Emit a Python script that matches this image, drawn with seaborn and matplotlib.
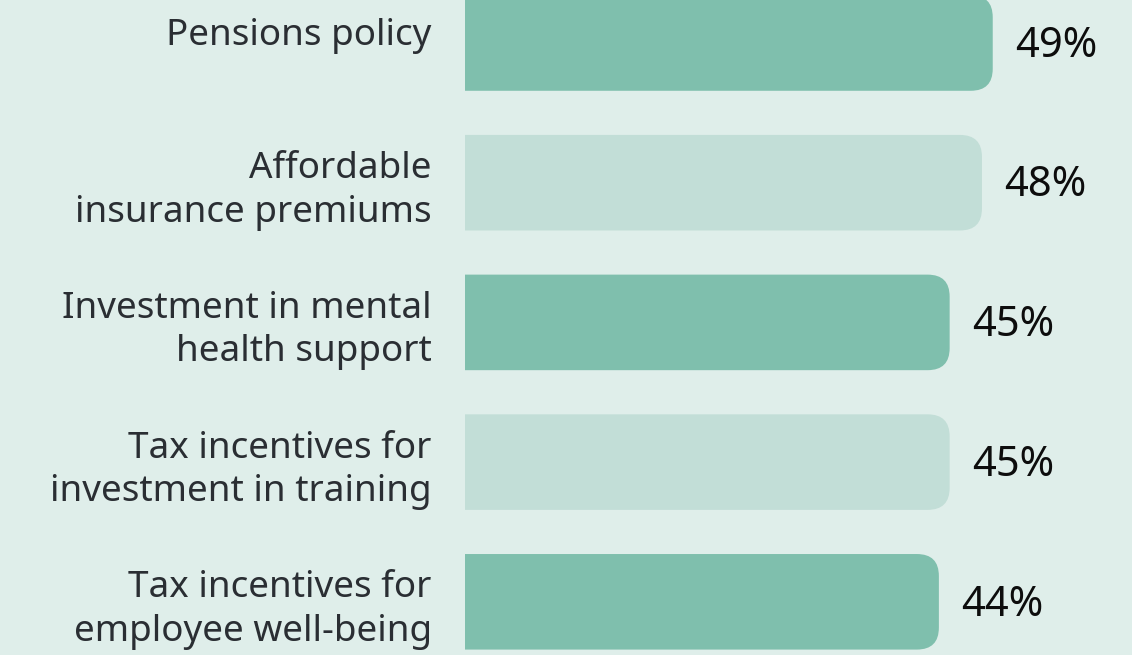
import matplotlib
matplotlib.use("Agg")
import matplotlib.pyplot as plt
from matplotlib.patches import FancyBboxPatch
from matplotlib.transforms import ScaledTranslation
import seaborn as sns
import pandas as pd

categories = [
    "Pensions policy",
    "Affordable\ninsurance premiums",
    "Investment in mental\nhealth support",
    "Tax incentives for\ninvestment in training",
    "Tax incentives for\nemployee well-being",
]
values = [49, 48, 45, 45, 44]
bar_colors = ["#7fbfad", "#c2ded7", "#7fbfad", "#c2ded7", "#7fbfad"]

BG = "#dfeeea"

sns.set_theme(style="white")
plt.rcParams["font.family"] = ["Noto Sans", "DejaVu Sans"]

df = pd.DataFrame({"label": categories, "value": values})

W, H = 1132, 655
fig = plt.figure(figsize=(W / 100, H / 100), dpi=100, facecolor=BG)
left_px = 465
ax = fig.add_axes([left_px / W, 0, 1 - left_px / W, 1])
ax.set_facecolor(BG)

px_per_unit_x = 10.77
pitch_px = 139.7
first_center_px = 43.0
sns.barplot(data=df, x="value", y="label", hue="label", palette=bar_colors,
            legend=False, orient="h", width=0.684, ax=ax, saturation=1)

ax.set_xlim(0, (W - left_px) / px_per_unit_x)
top = -first_center_px / pitch_px
bottom = top + H / pitch_px
ax.set_ylim(bottom, top)

# replace plain bars with right-rounded versions
radius_px = 22
ux = radius_px / px_per_unit_x
aspect = (1 / pitch_px) / (1 / px_per_unit_x)
bars = sorted(ax.patches, key=lambda p: p.get_y())
for val, p in zip(values, bars):
    x0, y0 = p.get_x(), p.get_y()
    w, h = p.get_width(), p.get_height()
    fc = p.get_facecolor()
    p.remove()
    rb = FancyBboxPatch((x0 - 2 * ux, y0), w + 2 * ux, h,
                        boxstyle=f"round,pad=0,rounding_size={ux}",
                        mutation_aspect=aspect, facecolor=fc,
                        edgecolor="none", clip_on=True)
    ax.add_patch(rb)
    ax.text(x0 + w + 22 / px_per_unit_x, y0 + h / 2 + 0.02, f"{val}%",
            va="center", ha="left", fontsize=30, color="#0d0d0d")

ax.set_xlabel("")
ax.set_ylabel("")
ax.set_xticks([])
ax.tick_params(axis="y", length=0, pad=24, labelsize=26.5, labelcolor="#2a2e33")
for i, lbl in enumerate(ax.get_yticklabels()):
    lbl.set_horizontalalignment("right")
    lbl.set_linespacing(1.28)
    if i == 0:
        lbl.set_transform(lbl.get_transform() +
                          ScaledTranslation(0, 11 / 100, fig.dpi_scale_trans))
for s in ax.spines.values():
    s.set_visible(False)

fig.savefig("out.png", dpi=100, facecolor=BG)
